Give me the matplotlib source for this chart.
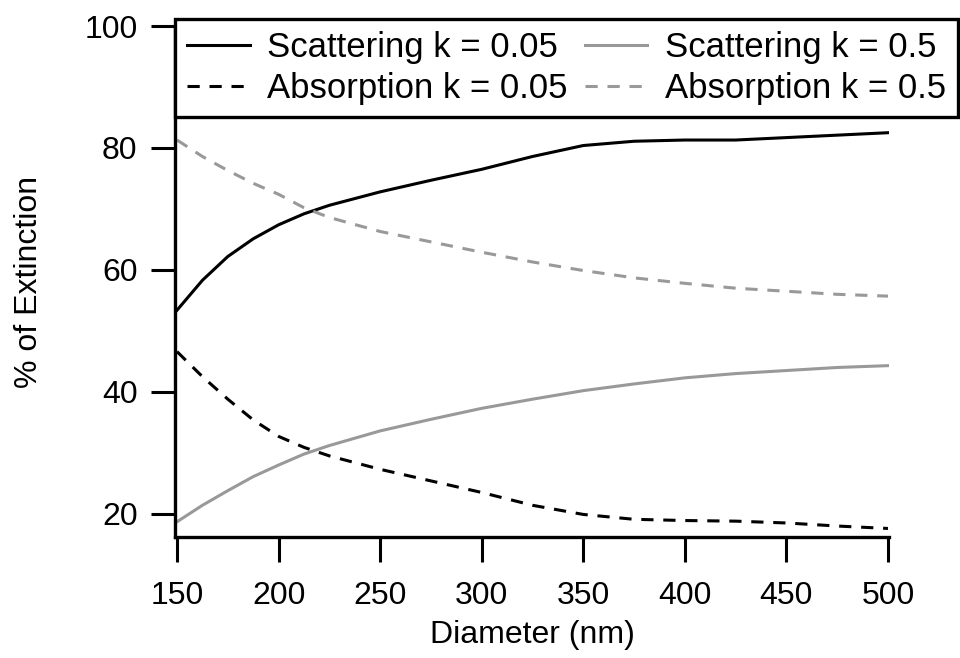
import matplotlib
matplotlib.use('Agg')
import matplotlib.pyplot as plt

plt.rcParams['font.family'] = ['Liberation Sans', 'DejaVu Sans']

# values (% of extinction vs particle diameter)
diameter = [150, 162.5, 175, 187.5, 200, 212.5, 225, 250, 275, 300, 325, 350, 375, 400, 425, 450, 475, 500]
sca_k005 = [53.4, 58.3, 62.2, 65.1, 67.4, 69.2, 70.6, 72.8, 74.7, 76.5, 78.6, 80.4, 81.1, 81.3, 81.3, 81.7, 82.1, 82.5]
abs_k005 = [46.6, 42.5, 38.8, 35.4, 32.7, 30.9, 29.5, 27.3, 25.4, 23.5, 21.4, 19.9, 19.1, 18.9, 18.8, 18.5, 18.0, 17.6]
sca_k05 = [18.7, 21.4, 23.8, 26.1, 28.0, 29.8, 31.2, 33.6, 35.5, 37.3, 38.8, 40.2, 41.3, 42.3, 43.0, 43.5, 44.0, 44.3]
abs_k05 = [81.3, 78.6, 76.3, 74.2, 72.4, 70.2, 68.6, 66.3, 64.6, 62.9, 61.3, 59.9, 58.7, 57.8, 57.0, 56.5, 56.0, 55.7]

xticks = [150, 200, 250, 300, 350, 400, 450, 500]
yticks = [20, 40, 60, 80, 100]

gray = '#999999'
lw = 2.2
fs = 23

fig = plt.figure(figsize=(9.6, 6.58), dpi=100)
ax = fig.add_axes([175 / 960, 1 - 537 / 658, (889 - 175) / 960, (537 - 26) / 658])

l1, = ax.plot(diameter, sca_k005, color='black', lw=lw, label='Scattering k = 0.05')
l2, = ax.plot(diameter, abs_k005, color='black', lw=lw, dashes=(4, 3.2), label='Absorption k = 0.05')
l3, = ax.plot(diameter, sca_k05, color=gray, lw=lw, label='Scattering k = 0.5')
l4, = ax.plot(diameter, abs_k05, color=gray, lw=lw, dashes=(4, 3.2), label='Absorption k = 0.5')

ax.set_xlim(149, 500.5)
ax.set_ylim(16.2, 100)
ax.set_xticks(xticks)
ax.set_yticks(yticks)
ax.spines['top'].set_visible(False)
ax.spines['right'].set_visible(False)
for s in ['left', 'bottom']:
    ax.spines[s].set_linewidth(2.4)
ax.tick_params(axis='both', direction='out', width=2.2, labelsize=fs)
ax.tick_params(axis='x', length=18, pad=14)
ax.tick_params(axis='y', length=17, pad=10)

ax.set_xlabel('Diameter (nm)', fontsize=fs, labelpad=6)
ax.set_ylabel('% of Extinction', fontsize=fs, labelpad=29)

leg = fig.legend(handles=[l1, l2, l3, l4], ncol=2, loc='upper left',
                 bbox_to_anchor=(175 / 960, 1 - 20 / 658, (958 - 175) / 960, 0.001),
                 mode='expand', borderaxespad=0, fontsize=25, frameon=True,
                 fancybox=False, edgecolor='black', framealpha=1,
                 handlelength=1.8, handletextpad=0.5, labelspacing=0.22,
                 borderpad=0.35, columnspacing=1.0)
leg.get_frame().set_linewidth(2.4)

fig.savefig('out.png', dpi=100)
